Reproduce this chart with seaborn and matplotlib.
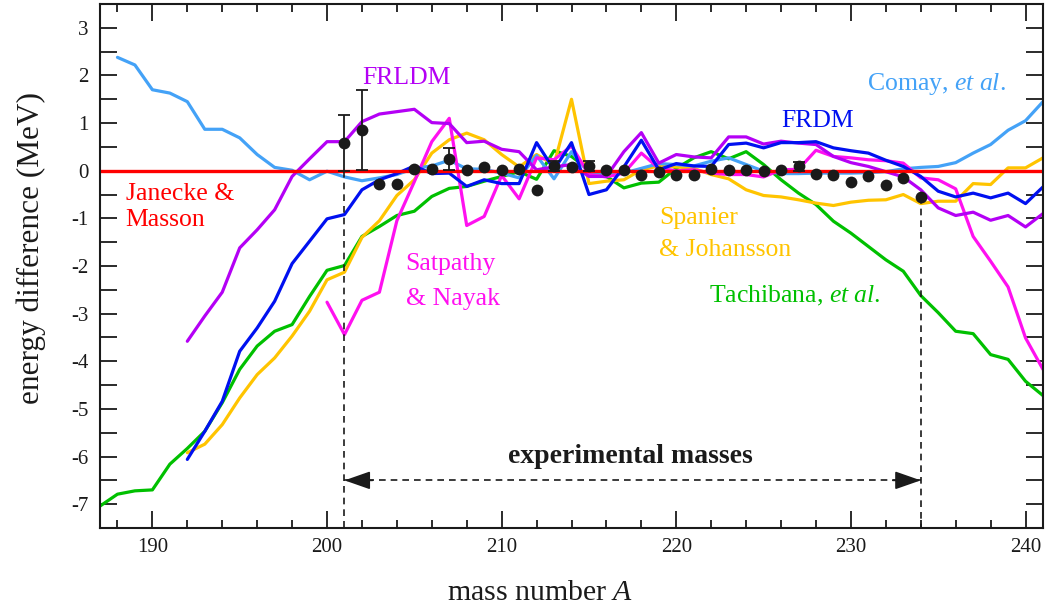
import numpy as np
import matplotlib
matplotlib.use("Agg")
import matplotlib.pyplot as plt
import seaborn as sns

# ---------------- data ----------------
A_tachibana = list(range(187, 242))
tachibana = [-7.04, -6.79, -6.72, -6.70, -6.16, -5.83, -5.47, -4.87, -4.17, -3.68,
             -3.37, -3.23, -2.64, -2.09, -1.99, -1.38, -1.17, -0.94, -0.85, -0.54,
             -0.37, -0.33, -0.22, -0.12, -0.02, -0.18, 0.42, 0.30, 0.02, -0.12,
             -0.36, -0.26, -0.24, 0.05, 0.27, 0.40, 0.25, 0.40, 0.13, -0.19,
             -0.47, -0.71, -1.06, -1.31, -1.59, -1.87, -2.11, -2.62, -2.98, -3.37,
             -3.42, -3.86, -3.96, -4.42, -4.72]

A_comay = list(range(188, 242))
comay = [2.38, 2.22, 1.70, 1.63, 1.45, 0.87, 0.87, 0.69, 0.34, 0.07,
         0.01, -0.19, -0.01, -0.13, -0.21, -0.15, -0.08, 0.05, 0.10, 0.22,
         0.04, 0.03, -0.05, -0.15, 0.32, -0.17, 0.40, -0.05, -0.05, -0.05,
         0.05, 0.15, 0.13, 0.10, 0.20, 0.27, 0.13, -0.01, -0.06, -0.06,
         -0.05, -0.05, -0.05, -0.04, -0.02, 0.04, 0.07, 0.09, 0.17, 0.37,
         0.55, 0.85, 1.05, 1.45]

A_192 = list(range(192, 242))
frldm = [-3.58, -3.05, -2.55, -1.62, -1.24, -0.82, -0.12, 0.25, 0.61, 0.61,
         1.03, 1.19, 1.24, 1.29, 1.01, 0.99, 0.59, 0.62, 0.45, 0.40,
         0.02, 0.08, 0.13, -0.12, -0.12, 0.40, 0.80, 0.16, 0.34, 0.29,
         0.27, 0.71, 0.71, 0.56, 0.62, 0.58, 0.55, 0.30, 0.17, 0.09,
         -0.02, -0.13, -0.40, -0.78, -0.94, -0.87, -1.04, -0.94, -1.18, -0.90]

frdm = [-6.06, -5.47, -4.84, -3.79, -3.30, -2.74, -1.95, -1.48, -1.01, -0.92,
        -0.40, -0.19, -0.06, 0.10, -0.06, -0.05, -0.33, -0.19, -0.27, -0.27,
        0.59, 0.02, 0.59, -0.50, -0.40, 0.08, 0.64, 0.02, 0.15, 0.10,
        0.09, 0.55, 0.58, 0.48, 0.59, 0.59, 0.61, 0.48, 0.42, 0.37,
        0.22, 0.09, -0.12, -0.43, -0.55, -0.47, -0.57, -0.47, -0.69, -0.34]

spanier = [-5.92, -5.74, -5.33, -4.77, -4.28, -3.93, -3.47, -2.95, -2.29, -2.13,
           -1.40, -1.05, -0.52, -0.19, 0.37, 0.65, 0.79, 0.65, 0.34, 0.08,
           0.34, 0.13, 1.50, -0.27, -0.22, -0.19, 0.02, 0.10, 0.08, 0.05,
           -0.08, -0.17, -0.40, -0.52, -0.55, -0.61, -0.68, -0.73, -0.66, -0.62,
           -0.61, -0.50, -0.69, -0.64, -0.64, -0.27, -0.29, 0.06, 0.06, 0.27]

A_satpathy = list(range(200, 242))
satpathy = [-2.76, -3.44, -2.72, -2.55, -1.05, -0.23, 0.61, 1.10, -1.15, -0.96,
            -0.10, -0.59, 0.27, 0.23, 0.52, -0.08, -0.13, -0.05, 0.37, 0.05,
            0.00, 0.02, -0.05, -0.08, -0.08, -0.13, 0.02, 0.03, 0.43, 0.30,
            0.27, 0.23, 0.21, 0.16, -0.15, -0.19, -0.38, -1.38, -1.90, -2.44,
            -3.51, -4.17]

A_exp = list(range(201, 235))
exp_vals = [0.58, 0.85, -0.28, -0.28, 0.04, 0.03, 0.25, 0.02, 0.08, 0.02,
            0.04, -0.40, 0.10, 0.07, 0.10, 0.02, 0.01, -0.08, -0.03, -0.08,
            -0.08, 0.03, 0.02, 0.02, -0.01, 0.01, 0.09, -0.06, -0.10, -0.23,
            -0.12, -0.29, -0.15, -0.55]
# only the error bars that are visible beyond the markers
A_err = [201, 202, 207, 213, 215, 227]
err_vals = [0.58, 0.85, 0.25, 0.10, 0.10, 0.09]
err_size = [0.58, 0.84, 0.23, 0.10, 0.10, 0.10]

A_janecke = [187, 241]
janecke = [0.0, 0.0]

exp_range = [201, 234]

# ---------------- style ----------------
sns.set_theme(style="ticks")
plt.rcParams['font.family'] = ['Liberation Serif', 'DejaVu Serif']
plt.rcParams['mathtext.fontset'] = 'custom'
plt.rcParams['mathtext.rm'] = 'Liberation Serif'
plt.rcParams['mathtext.it'] = 'Liberation Serif:italic'
plt.rcParams['mathtext.bf'] = 'Liberation Serif:bold'
plt.rcParams['axes.unicode_minus'] = False

C_COMAY = '#44a2f7'
C_FRLDM = '#b400f5'
C_SAT = '#ff10f0'
C_FRDM = '#0010f0'
C_TACH = '#00c000'
C_SPAN = '#ffc400'
C_RED = '#ff0000'

fig = plt.figure(figsize=(10.47, 6.09), dpi=100)
ax = fig.add_axes([100/1047, 1 - 528/609, 943/1047, 524/609])

lw = 2.3
sns.lineplot(x=A_tachibana, y=tachibana, ax=ax, color=C_TACH, lw=lw, estimator=None, sort=False)
sns.lineplot(x=A_192, y=spanier, ax=ax, color=C_SPAN, lw=lw, estimator=None, sort=False)
sns.lineplot(x=A_comay, y=comay, ax=ax, color=C_COMAY, lw=lw, estimator=None, sort=False)
sns.lineplot(x=A_satpathy, y=satpathy, ax=ax, color=C_SAT, lw=lw, estimator=None, sort=False)
sns.lineplot(x=A_192, y=frldm, ax=ax, color=C_FRLDM, lw=lw, estimator=None, sort=False)
sns.lineplot(x=A_192, y=frdm, ax=ax, color=C_FRDM, lw=lw, estimator=None, sort=False)
sns.lineplot(x=A_janecke, y=janecke, ax=ax, color=C_RED, lw=2.4, estimator=None, sort=False)

# experimental range markers
ax.plot([exp_range[0]] * 2, [0.0, -7.5], color='k', lw=1.2, ls=(0, (4, 3)), zorder=3)
ax.plot([exp_range[1]] * 2, [exp_vals[-1], -7.5], color='k', lw=1.2, ls=(0, (4, 3)), zorder=3)
ax.plot(exp_range, [-6.5, -6.5], color='k', lw=1.2, ls=(0, (4, 3)), zorder=3)
for start, end in [(exp_range[0] + 1.6, exp_range[0]), (exp_range[1] - 1.6, exp_range[1])]:
    ax.annotate('', xy=(end, -6.5), xytext=(start, -6.5),
                arrowprops=dict(arrowstyle='-|>,head_length=0.8,head_width=0.28',
                                color='k', lw=1.2, shrinkA=0, shrinkB=0,
                                mutation_scale=20))
ax.text(217.4, -6.13, 'experimental masses', fontsize=20, fontweight='bold',
        ha='center', va='baseline', color='k')

# experimental points
ax.errorbar(A_err, err_vals, yerr=err_size, fmt='none', ecolor='k', elinewidth=1.3,
            capsize=4, capthick=1.3, zorder=4)
sns.scatterplot(x=A_exp, y=exp_vals, ax=ax, color='k', s=72, edgecolor='k',
                linewidth=0, zorder=5)

# labels on curves
fs = 18.5
ax.text(202.0, 1.82, 'FRLDM', color=C_FRLDM, fontsize=fs, va='baseline')
ax.text(230.9, 1.70, r'Comay, $\mathit{et\ al.}$', color=C_COMAY, fontsize=fs, va='baseline')
ax.text(226.0, 0.91, 'FRDM', color=C_FRDM, fontsize=fs, va='baseline')
ax.text(188.47, -0.61, 'Janecke &', color=C_RED, fontsize=fs, va='baseline')
ax.text(188.47, -1.17, 'Masson', color=C_RED, fontsize=fs, va='baseline')
ax.text(204.5, -2.09, 'Satpathy', color=C_SAT, fontsize=fs, va='baseline')
ax.text(204.5, -2.81, '& Nayak', color=C_SAT, fontsize=fs, va='baseline')
ax.text(219.0, -1.11, 'Spanier', color=C_SPAN, fontsize=fs, va='baseline')
ax.text(219.0, -1.80, '& Johansson', color=C_SPAN, fontsize=fs, va='baseline')
ax.text(221.9, -2.77, r'Tachibana, $\mathit{et\ al.}$', color=C_TACH, fontsize=fs, va='baseline')

# axes
ax.set_xlim(187, 241)
ax.set_ylim(-7.5, 3.5)
ax.set_xticks(range(190, 241, 10))
ax.set_xticks(range(188, 242, 2), minor=True)
ax.set_yticks(range(-7, 4))
ax.set_yticks(np.arange(-7.5, 3.6, 0.5), minor=True)
ax.tick_params(which='both', direction='in', top=True, right=True, width=1.3,
               color='k', labelsize=15, labelcolor='k')
ax.tick_params(axis='x', which='major', length=12, pad=7)
ax.tick_params(axis='x', which='minor', length=6)
ax.tick_params(axis='y', which='both', length=12, pad=8)
for sp in ax.spines.values():
    sp.set_linewidth(1.5)
    sp.set_color('k')
ax.set_xlabel(r'mass number $\mathit{A}$', fontsize=21.5, color='k')
ax.xaxis.set_label_coords(0.467, -0.1)
ax.set_ylabel('energy difference (MeV)', fontsize=22.5, color='k')
ax.yaxis.set_label_coords(-0.057, 0.535)

fig.savefig('out.png', dpi=100)
